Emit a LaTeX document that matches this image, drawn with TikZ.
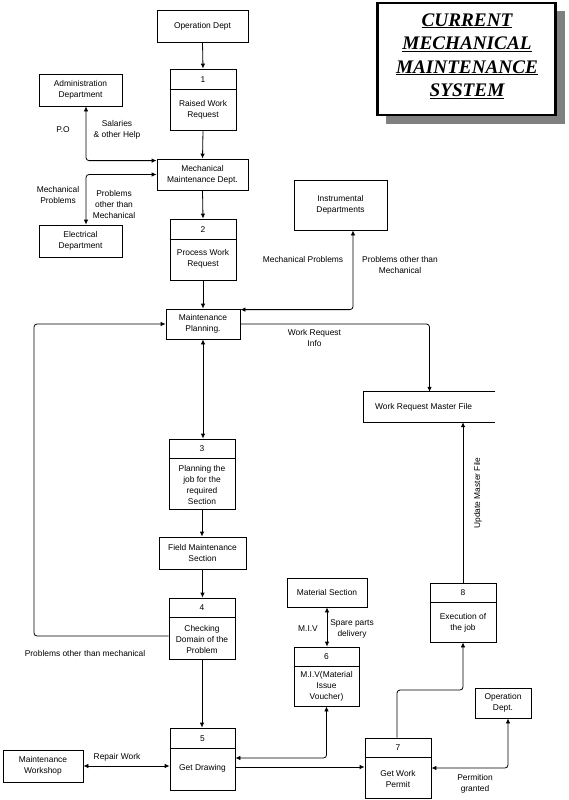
\documentclass[tikz,border=0pt]{standalone}
\usepackage{fontspec}
\setmainfont{Liberation Sans}
\newfontfamily\titlefont{Liberation Serif}
\usetikzlibrary{arrows.meta,calc}
\newcommand\lblfont{\fontsize{8.4}{11}\selectfont}
\begin{document}
\begin{tikzpicture}[x=1pt,y=-1pt,
  >={Latex[length=5pt,width=4.5pt]},
  box/.style={draw, line width=0.8pt, inner sep=0pt, align=center, font=\lblfont},
  txt/.style={inner sep=0pt, align=center, font=\lblfont},
  conn/.style={draw, line width=0.8pt, rounded corners=3pt},
  divline/.style={line width=0.8pt}]
\useasboundingbox (0,0) rectangle (569,800);

% ---------- title ----------
\fill[black!50] (386,11) rectangle (565,124);
\node[draw, line width=2.8pt, fill=white, minimum width=178, minimum height=112, inner sep=0pt] (ttl) at (466.5,59) {};
\node[inner sep=0pt, align=center, font=\titlefont\bfseries\itshape\fontsize{19.2}{23.5}\selectfont] (ttlt) at (467,56)
  {\underline{CURRENT}\\\underline{MECHANICAL}\\\underline{MAINTENANCE}\\\underline{SYSTEM}};

% ---------- simple boxes ----------
\node[box, minimum width=91, minimum height=32] (opd) at (202.5,26) {Operation Dept};
\node[box, minimum width=83, minimum height=32] (adm) at (80.5,90) {Administration\\Department};
\node[box, minimum width=91, minimum height=31] (mmd) at (202.5,174.5) {Mechanical\\Maintenance Dept.};
\node[box, minimum width=83, minimum height=32] (ele) at (80.5,241) {Electrical\\Department};
\node[box, minimum width=74, minimum height=30] (mp) at (203,324) {Maintenance\\Planning.};
\node[box, minimum width=93, minimum height=50] (ins) at (340.5,205) {Instrumental\\Departments};
\node[box, minimum width=87, minimum height=32] (fms) at (202.5,553) {Field Maintenance\\Section};
\node[box, minimum width=80, minimum height=32] (mw) at (43,766) {Maintenance\\Workshop};
\node[box, minimum width=80, minimum height=29] (ms) at (327,592.5) {Material Section};
\node[box, minimum width=56, minimum height=30] (od2) at (503,703) {Operation\\Dept.};

% work request master file (open store)
\node[inner sep=0pt, minimum width=131, minimum height=30] (wrm) at (429.5,407) {};
\draw[divline] (wrm.north east) -- (wrm.north west) -- (wrm.south west) -- (wrm.south east);
\node[txt, anchor=west] (wrmt) at (375,407) {Work Request Master File};

% ---------- process boxes ----------
\node[box, minimum width=66, minimum height=61] (p1) at (203,99.5) {};
\draw[divline] ([yshift=-21pt]p1.north west) -- ([yshift=-21pt]p1.north east);
\node[txt] (p1n) at (203,80) {1};
\node[txt] (p1t) at (203,109.5) {Raised Work\\Request};

\node[box, minimum width=66, minimum height=61] (p2) at (203,249.5) {};
\draw[divline] ([yshift=-21pt]p2.north west) -- ([yshift=-21pt]p2.north east);
\node[txt] (p2n) at (203,229.5) {2};
\node[txt] (p2t) at (203,259) {Process Work\\Request};

\node[box, minimum width=66, minimum height=70] (p3) at (202,474) {};
\draw[divline] ([yshift=-20pt]p3.north west) -- ([yshift=-20pt]p3.north east);
\node[txt] (p3n) at (202,449) {3};
\node[txt] (p3t) at (202,484.5) {Planning the\\job for the\\required\\Section};

\node[box, minimum width=66, minimum height=61] (p4) at (202,628.5) {};
\draw[divline] ([yshift=-20pt]p4.north west) -- ([yshift=-20pt]p4.north east);
\node[txt] (p4n) at (202,608) {4};
\node[txt] (p4t) at (202,639) {Checking\\Domain of the\\Problem};

\node[box, minimum width=65, minimum height=62] (p5) at (202.5,759) {};
\draw[divline] ([yshift=-21pt]p5.north west) -- ([yshift=-21pt]p5.north east);
\node[txt] (p5n) at (202.5,738.5) {5};
\node[txt] (p5t) at (202.5,768) {Get Drawing};

\node[box, minimum width=65, minimum height=59] (p6) at (326.5,676.5) {};
\draw[divline] ([yshift=-20pt]p6.north west) -- ([yshift=-20pt]p6.north east);
\node[txt] (p6n) at (326.5,657) {6};
\node[txt] (p6t) at (326.5,686) {M.I.V(Material\\Issue\\Voucher)};

\node[box, minimum width=66, minimum height=60] (p7) at (398,768) {};
\draw[divline] ([yshift=-20pt]p7.north west) -- ([yshift=-20pt]p7.north east);
\node[txt] (p7n) at (398,748) {7};
\node[txt] (p7t) at (398,778.5) {Get Work\\Permit};

\node[box, minimum width=66, minimum height=59] (p8) at (463,612.5) {};
\draw[divline] ([yshift=-20pt]p8.north west) -- ([yshift=-20pt]p8.north east);
\node[txt] (p8n) at (463,593) {8};
\node[txt] (p8t) at (463,622.5) {Execution of\\the job};

% ---------- connectors ----------
\draw[conn,->] (opd.south) -- (p1.north);
\draw[conn,->] (p1.south) -- (mmd.north);
\draw[conn,<->] ([yshift=-2pt]mmd.north west) -| ([xshift=5.5pt]adm.south);
\draw[conn,<->] (mmd.west) -| ([xshift=5.5pt]ele.north);
\draw[conn,->] (mmd.south) -- (p2.north);
\draw[conn,->] (p2.south) -- (mp.north);
\draw[conn,<->] ([yshift=-1pt]mp.north east) -| ([xshift=12.5pt]ins.south);
\draw[conn,->] (mp.east) -| (wrm.north);
\draw[conn,<->] (mp.south) -- (mp.south |- p3.north);
\draw[conn,->] (p3.south) -- (p3.south |- fms.north);
\draw[conn,->] (fms.south) -- (fms.south |- p4.north);
\coordinate (lc) at (34,324);
\draw[conn,->] ([yshift=-7.5pt]p4.west) -| (lc) -- (mp.west);
\draw[conn,->] (p4.south) -- (p4.south |- p5.north);
\draw[conn,<->] (mw.east) -- (mw.east -| p5.west);
\draw[conn,<->] (ms.south) -- (ms.south |- p6.north);
\draw[conn,<->] (p6.south) |- ([yshift=1pt]p5.east);
\draw[conn,->] ([yshift=-8pt]p5.east) -- ([yshift=-8pt]p5.east -| p7.west);
\coordinate (m78) at (430,690);
\draw[conn,->] ([xshift=-1pt]p7.north) |- (m78) -| (p8.south);
\draw[conn,->] (p8.north) -- (p8.north |- wrm.south);
\draw[conn,<->] (p7.east) -| ([xshift=5pt]od2.south);

% ---------- labels ----------
\node[txt] (lpo) at (63,130) {P.O};
\node[txt] (lsal) at (117,130) {Salaries\\\& other Help};
\node[txt] (lmp1) at (58,194.5) {Mechanical\\Problems};
\node[txt] (lpo1) at (114,204) {Problems\\other than\\Mechanical};
\node[txt] (lmp2) at (303,259) {Mechanical Problems};
\node[txt] (lpo2) at (400,264.5) {Problems other than\\Mechanical};
\node[txt] (lwri) at (314.5,338) {Work Request\\Info};
\node[txt, rotate=90] (lupd) at (478,493) {Update Master File};
\node[txt] (lpom) at (85,653) {Problems other than mechanical};
\node[txt] (lrep) at (117,757) {Repair Work};
\node[txt] (lmiv) at (308,629) {M.I.V};
\node[txt] (lspd) at (352,628.5) {Spare parts\\delivery};
\node[txt] (lperm) at (475,783.5) {Permition\\granted};
\end{tikzpicture}
\end{document}
